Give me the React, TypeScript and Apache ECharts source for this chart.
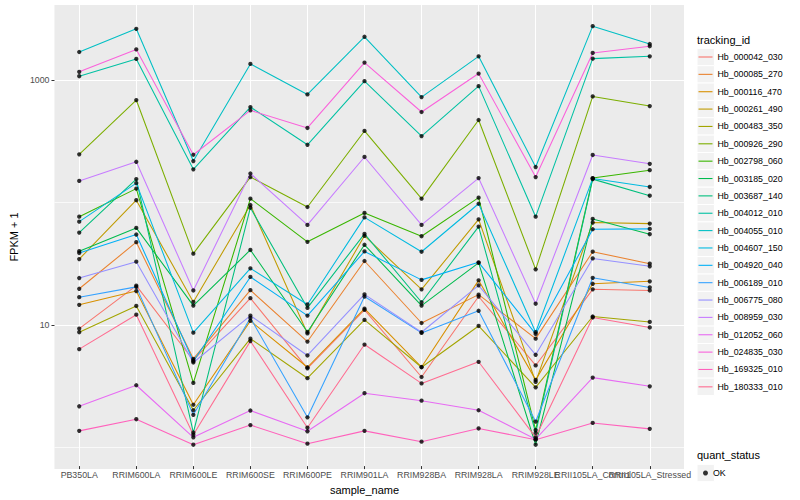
import React, { useEffect, useRef } from "react";
import * as echarts from "echarts";

const categories = [
  "PB350LA", "RRIM600LA", "RRIM600LE", "RRIM600SE", "RRIM600PE", "RRIM901LA",
  "RRIM928BA", "RRIM928LA", "RRIM928LE", "RRII105LA_Control", "RRII105LA_Stressed",
];

const trackingIds = [
  "Hb_000042_030", "Hb_000085_270", "Hb_000116_470", "Hb_000261_490", "Hb_000483_350",
  "Hb_000926_290", "Hb_002798_060", "Hb_003185_020", "Hb_003687_140", "Hb_004012_010",
  "Hb_004055_010", "Hb_004607_150", "Hb_004920_040", "Hb_006189_010", "Hb_006775_080",
  "Hb_008959_030", "Hb_012052_060", "Hb_024835_030", "Hb_169325_010", "Hb_180333_010",
];

// FPKM + 1 per sample (same order as categories)
const hb000042_030 = [9.0, 20.3, 4.94, 16.0, 4.24, 12.8, 3.6, 16.5, 4.48, 18.9, 18.5];
const hb000085_270 = [19.1, 46.1, 5.08, 18.6, 7.04, 32.3, 10.0, 17.1, 7.44, 38.5, 30.7];
const hb000116_470 = [14.1, 18.3, 2.13, 10.4, 4.33, 13.1, 4.35, 22.4, 3.41, 21.0, 22.0];
const hb000261_490 = [33.5, 102, 14.9, 93.1, 8.21, 52.0, 18.9, 71.0, 3.28, 66.8, 65.5];
const hb000483_350 = [8.4, 13.8, 1.92, 7.44, 3.52, 10.6, 4.33, 9.45, 2.96, 11.3, 10.2];
const hb000926_290 = [243, 678, 37.1, 158, 89.7, 378, 105, 465, 27.6, 726, 605];
const hb002798_060 = [74.7, 127, 3.22, 105, 46.4, 80.1, 51.6, 107, 1.32, 155, 180];
const hb003185_020 = [38.9, 60.4, 13.9, 39.8, 8.44, 43.9, 13.9, 31.2, 1.0, 71.6, 53.6];
const hb003687_140 = [55.3, 152, 1.26, 88.5, 13.3, 54.0, 14.8, 61.9, 1.25, 152, 111];
const hb004012_010 = [1064, 1476, 183, 594, 291, 969, 343, 882, 74.7, 1484, 1550];
const hb004055_010 = [1683, 2608, 214, 1343, 754, 2244, 717, 1550, 191, 2744, 1956];
const hb004607_150 = [68.0, 141, 8.33, 28.1, 14.2, 73.7, 38.5, 95.4, 8.4, 154, 131];
const hb004920_040 = [37.6, 53.3, 4.85, 23.9, 11.5, 38.7, 22.6, 31.5, 8.13, 58.9, 59.3];
const hb006189_010 = [16.3, 19.8, 1.76, 11.0, 1.68, 16.5, 8.29, 12.6, 1.55, 23.5, 19.6];
const hb006775_080 = [23.4, 31.9, 4.74, 11.5, 5.41, 17.2, 8.4, 20.4, 5.48, 33.9, 29.2];
const hb008959_030 = [147, 211, 18.5, 169, 63.9, 231, 63.9, 155, 14.4, 240, 203];
const hb012052_060 = [2.07, 3.08, 1.15, 1.91, 1.29, 2.65, 2.3, 1.92, 1.11, 3.56, 3.02];
const hb024835_030 = [1156, 1767, 241, 558, 400, 1377, 541, 1119, 158, 1652, 1877];
const hb169325_010 = [1.3, 1.62, 1.0, 1.45, 1.02, 1.3, 1.06, 1.36, 1.1, 1.51, 1.35];
const hb180333_010 = [6.1, 11.7, 1.21, 7.1, 1.38, 6.65, 3.19, 4.8, 1.15, 11.1, 9.19];

const seriesValues = [
  hb000042_030, hb000085_270, hb000116_470, hb000261_490, hb000483_350,
  hb000926_290, hb002798_060, hb003185_020, hb003687_140, hb004012_010,
  hb004055_010, hb004607_150, hb004920_040, hb006189_010, hb006775_080,
  hb008959_030, hb012052_060, hb024835_030, hb169325_010, hb180333_010,
];

const quantStatus = ["OK"];
const yMajorTicks = [10, 1000];
const yMinorTicks = [1, 100];
const yMin = 0.6676;
const yMax = 4093;

const palette = [
  "#F8766D", "#EA8331", "#D89000", "#C09B00", "#A3A500", "#7CAE00", "#39B600",
  "#00BB4E", "#00BF7D", "#00C1A3", "#00BFC4", "#00BAE0", "#00B0F6", "#35A2FF",
  "#9590FF", "#C77CFF", "#E76BF3", "#FA62DB", "#FF62BC", "#FF6C91",
];

const FONT = "'Liberation Sans', Arial, Helvetica, sans-serif";

export default function App() {
  const ref = useRef<HTMLDivElement>(null);

  useEffect(() => {
    if (!ref.current) return;
    const chart = echarts.init(ref.current, null, { renderer: "svg" });

    const panelL = 45, panelT = 5, panelW = 639, panelH = 464;
    const unit = panelW / (categories.length - 1 + 1.2);
    const dataL = panelL + 0.6 * unit;
    const dataW = (categories.length - 1) * unit;

    const lineSeries = trackingIds.map((id, i) => ({
      type: "line",
      name: id,
      xAxisIndex: 1,
      yAxisIndex: 2,
      data: seriesValues[i],
      symbol: "none",
      showSymbol: false,
      color: palette[i],
      lineStyle: { width: 1.07, color: palette[i] },
      itemStyle: { color: palette[i] },
      silent: true,
      z: 2,
    }));

    const points: any[] = [];
    seriesValues.forEach((vals) => {
      vals.forEach((v, j) => points.push([categories[j], v]));
    });

    const keyStep = 17.36;
    const firstKey = 57;
    const graphics: any[] = [];
    trackingIds.forEach((_, i) => {
      const c = firstKey + i * keyStep;
      graphics.push({
        type: "rect",
        z: 0,
        shape: { x: 697, y: c - keyStep / 2, width: keyStep, height: keyStep },
        style: { fill: "#F2F2F2", stroke: "#FFFFFF", lineWidth: 1 },
        silent: true,
      });
    });
    graphics.push({
      type: "rect",
      z: 0,
      shape: { x: 697, y: 473 - keyStep / 2, width: keyStep, height: keyStep },
      style: { fill: "#F2F2F2", stroke: "#FFFFFF", lineWidth: 1 },
      silent: true,
    });
    graphics.push({
      type: "text",
      x: 697,
      y: 39.5,
      style: { text: "tracking_id", fontSize: 11, fontFamily: FONT, fill: "#000", verticalAlign: "middle" },
    });
    graphics.push({
      type: "text",
      x: 697,
      y: 455,
      style: { text: "quant_status", fontSize: 11, fontFamily: FONT, fill: "#000", verticalAlign: "middle" },
    });

    const option: any = {
      animation: false,
      backgroundColor: "#FFFFFF",
      textStyle: { fontFamily: FONT },
      grid: [
        { left: panelL, top: panelT, width: panelW, height: panelH, show: true, backgroundColor: "#EBEBEB", borderWidth: 0 },
        { left: dataL, top: panelT, width: dataW, height: panelH, show: false },
      ],
      xAxis: [
        { type: "value", gridIndex: 0, show: false, min: 0, max: 1 },
        {
          type: "category",
          gridIndex: 1,
          data: categories,
          boundaryGap: false,
          axisLine: { show: false },
          axisTick: { show: true, interval: 0, length: 3, lineStyle: { color: "#333333", width: 1 } },
          axisLabel: { interval: 0, hideOverlap: false, color: "#4D4D4D", fontSize: 8.8, margin: 4, fontFamily: FONT },
          splitLine: { show: true, interval: 0, lineStyle: { color: "#FFFFFF", width: 1.07 } },
          name: "sample_name",
          nameLocation: "middle",
          nameGap: 13,
          nameTextStyle: { fontSize: 11, color: "#000", fontFamily: FONT },
        },
      ],
      yAxis: [
        {
          type: "log",
          logBase: 10,
          gridIndex: 0,
          position: "left",
          min: yMin,
          max: yMax,
          axisLine: { show: false },
          axisTick: { show: false, customValues: yMinorTicks },
          axisLabel: { show: false, customValues: yMinorTicks },
          splitLine: { show: true, lineStyle: { color: "#FFFFFF", width: 0.7 } },
        },
        {
          type: "log",
          logBase: 10,
          gridIndex: 0,
          position: "left",
          offset: 0,
          min: yMin,
          max: yMax,
          axisLine: { show: false },
          axisTick: { show: true, length: 3, customValues: yMajorTicks, lineStyle: { color: "#333333", width: 1 } },
          axisLabel: {
            show: true,
            customValues: yMajorTicks,
            color: "#4D4D4D",
            fontSize: 8.8,
            margin: 5,
            fontFamily: FONT,
            formatter: (v: number) => String(Math.round(v)),
          },
          splitLine: { show: true, lineStyle: { color: "#FFFFFF", width: 1.07 } },
          name: "FPKM + 1",
          nameLocation: "middle",
          nameGap: 28,
          nameRotate: 90,
          nameTextStyle: { fontSize: 11, color: "#000", fontFamily: FONT },
        },
        { type: "log", logBase: 10, gridIndex: 1, min: yMin, max: yMax, show: false },
      ],
      legend: [
        {
          data: trackingIds,
          orient: "vertical",
          left: 698.5,
          top: firstKey - 6,
          icon: "rect",
          itemWidth: 14,
          itemHeight: 1.1,
          itemGap: keyStep - 12,
          selectedMode: false,
          padding: 0,
          textStyle: { fontSize: 8.8, color: "#000", lineHeight: 12, fontFamily: FONT },
        },
        {
          data: quantStatus,
          orient: "vertical",
          left: 703,
          top: 473 - 6,
          icon: "circle",
          itemWidth: 5,
          itemHeight: 5,
          selectedMode: false,
          padding: 0,
          textStyle: { fontSize: 8.8, color: "#000", lineHeight: 12, fontFamily: FONT },
        },
      ],
      graphic: graphics,
      series: [
        ...lineSeries,
        {
          type: "scatter",
          name: quantStatus[0],
          xAxisIndex: 1,
          yAxisIndex: 2,
          data: points,
          symbol: "circle",
          symbolSize: 4.3,
          itemStyle: { color: "#000000" },
          color: "#000000",
          silent: true,
          z: 3,
        },
      ],
    };

    chart.setOption(option);
    return () => chart.dispose();
  }, []);

  return (
    <div
      ref={ref}
      style={{ position: "fixed", left: 0, top: 0, width: 800, height: 500 }}
    />
  );
}
